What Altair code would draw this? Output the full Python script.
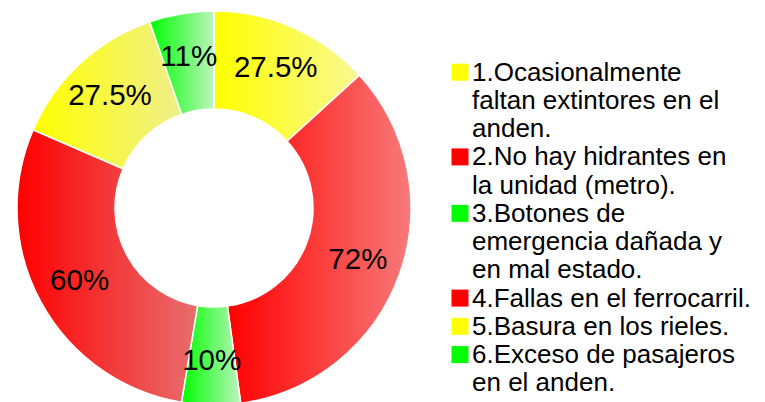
import altair as alt
import pandas as pd

# ---- data ----
values = [27.5, 72, 10, 60, 27.5, 11]
labels = ["27.5%", "72%", "10%", "60%", "27.5%", "11%"]
categories = [
    "1.Ocasionalmente faltan extintores en el anden.",
    "2.No hay hidrantes en la unidad (metro).",
    "3.Botones de emergencia dañada y en mal estado.",
    "4.Fallas en el ferrocarril.",
    "5.Basura en los rieles.",
    "6.Exceso de pasajeros en el anden.",
]
legend_lines = [
    ["1.Ocasionalmente", "faltan extintores en el", "anden."],
    ["2.No hay hidrantes en", "la unidad (metro)."],
    ["3.Botones de", "emergencia dañada y", "en mal estado."],
    ["4.Fallas en el ferrocarril."],
    ["5.Basura en los rieles."],
    ["6.Exceso de pasajeros", "en el anden."],
]
base_colors = ["#FFFF00", "#FF0000", "#00FF00", "#FF0000", "#FFFF00", "#00FF00"]
end_colors = ["#F8F892", "#F87A7A", "#BDF4BD", "#E86E6E", "#EFEF8C", "#BDF4BD"]

FONT = "Liberation Sans"

df = pd.DataFrame({
    "id": list(range(len(values))),
    "value": values,
    "label": labels,
    "category": categories,
})

theta_scale = alt.Scale(domain=[0, 1])

base = (
    alt.Chart(df)
    .transform_joinaggregate(total="sum(value)")
    .transform_window(cum="sum(value)", sort=[alt.SortField("id")], frame=[None, 0])
    .transform_calculate(
        start="(datum.cum - datum.value) / datum.total",
        end="datum.cum / datum.total",
        mid="(datum.cum - datum.value / 2) / datum.total",
    )
)

arc_layers = []
for i in range(len(values)):
    grad = {
        "gradient": "linear",
        "x1": 0, "y1": 0, "x2": 1, "y2": 0,
        "stops": [
            {"offset": 0, "color": base_colors[i]},
            {"offset": 1, "color": end_colors[i]},
        ],
    }
    arc_layers.append(
        base.transform_filter(f"datum.id == {i}")
        .mark_arc(innerRadius=99, outerRadius=197, stroke="white",
                  strokeWidth=1.5, fill=grad)
        .encode(
            theta=alt.Theta("start:Q", scale=theta_scale, stack=False),
            theta2="end:Q",
        )
    )

text_layer = base.mark_text(
    radius=153, fontSize=29.5, font=FONT, color="black"
).encode(
    theta=alt.Theta("mid:Q", scale=theta_scale, stack=False),
    text="label:N",
)

donut = alt.layer(*arc_layers, text_layer).properties(width=412, height=394)

# ---- custom legend ----
rows = []
k = 0
for i, lines in enumerate(legend_lines):
    for j, line in enumerate(lines):
        rows.append({"entry": str(i), "line": j, "text": line, "slot": k})
        k += 1
ldf = pd.DataFrame(rows)
max_slot = float(ldf["slot"].max())

y_scale = alt.Scale(domain=[0, max_slot], range=[69.7, 380.3])

lbase = alt.Chart(ldf)
squares = lbase.transform_filter("datum.line == 0").mark_square(
    size=289, filled=True, opacity=1, yOffset=-8.5
).encode(
    x=alt.value(40),
    y=alt.Y("slot:Q", scale=y_scale, axis=None),
    color=alt.Color("entry:N",
                    scale=alt.Scale(domain=[str(i) for i in range(6)], range=base_colors),
                    legend=None),
)
ltext = lbase.mark_text(
    align="left", baseline="alphabetic", fontSize=26, font=FONT, color="black"
).encode(
    x=alt.value(52),
    y=alt.Y("slot:Q", scale=y_scale, axis=None),
    text="text:N",
)
legend = alt.layer(squares, ltext).properties(width=337, height=394)

chart = (
    alt.hconcat(donut, legend, spacing=0)
    .properties(padding=0)
    .configure_view(stroke=None)
)

chart.save("out.html", embed_options={"renderer": "svg", "actions": False})
